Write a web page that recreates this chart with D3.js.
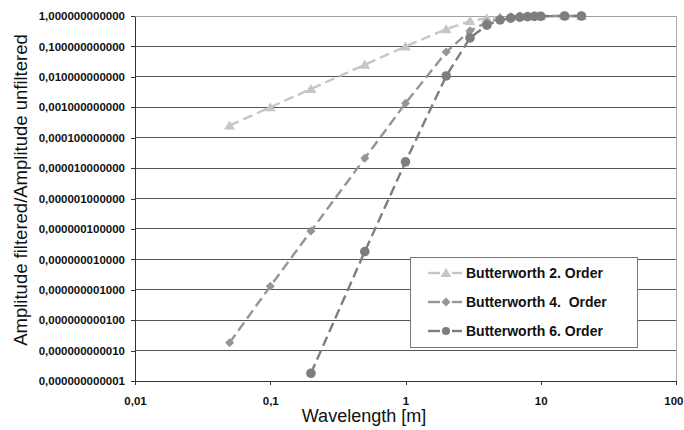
<!DOCTYPE html>
<html>
<head>
<meta charset="utf-8">
<script src="https://cdn.jsdelivr.net/npm/d3@7/dist/d3.min.js"></script>
<style>
  html, body { margin: 0; padding: 0; background: #fff; }
  svg { display: block; font-family: "Liberation Sans", Arial, sans-serif; }
</style>
</head>
<body>
<svg id="chart" width="684" height="430"></svg>
<script>
// Wavelengths [m] at which the filter response was evaluated
const wavelengthsLong = [0.05, 0.1, 0.2, 0.5, 1, 2, 3, 4, 5, 6, 7, 8, 9, 10, 15, 20];
const wavelengthsShort = [0.2, 0.5, 1, 2, 3, 4, 5, 6, 7, 8, 9, 10, 15, 20];

// Amplitude ratio filtered / unfiltered
const order2 = [2.5e-4, 1.0e-3, 4.0e-3, 0.025, 0.1, 0.37, 0.68, 0.85, 0.93, 0.965, 0.98, 0.988, 0.992, 0.995, 0.999, 1.0];
const order4 = [1.8e-11, 1.3e-9, 8.5e-8, 2.1e-5, 1.35e-3, 0.065, 0.33, 0.62, 0.82, 0.92, 0.96, 0.98, 0.99, 0.995, 1.0, 1.0];
const order6 = [1.8e-12, 1.8e-8, 1.6e-5, 0.0107, 0.19, 0.5, 0.74, 0.86, 0.92, 0.95, 0.97, 0.98, 1.0, 1.0];

const seriesNames = ["Butterworth 2. Order", "Butterworth 4.  Order", "Butterworth 6. Order"];

// Axis ticks and their labels
const xTicks = [0.01, 0.1, 1, 10, 100];
const xTickLabels = ["0,01", "0,1", "1", "10", "100"];
const yTicks = [1, 1e-1, 1e-2, 1e-3, 1e-4, 1e-5, 1e-6, 1e-7, 1e-8, 1e-9, 1e-10, 1e-11, 1e-12];
const yTickLabels = [
  "1,000000000000", "0,100000000000", "0,010000000000", "0,001000000000",
  "0,000100000000", "0,000010000000", "0,000001000000", "0,000000100000",
  "0,000000010000", "0,000000001000", "0,000000000100", "0,000000000010",
  "0,000000000001"
];

const svg = d3.select("#chart");
const L = 135, R = 676, T = 16, B = 381;

const x = d3.scaleLog().domain([0.01, 100]).range([L, R]);
const y = d3.scaleLog().domain([1e-12, 1]).range([B, T]);

// Horizontal grid lines
svg.append("g").selectAll("line")
  .data(yTicks)
  .join("line")
  .attr("x1", L).attr("x2", R)
  .attr("y1", d => y(d)).attr("y2", d => y(d))
  .attr("stroke", (d, i) => i === 0 ? "#a0a0a0" : "#555")
  .attr("stroke-width", 1)
  .attr("shape-rendering", "crispEdges");

// Right frame
svg.append("line")
  .attr("x1", R).attr("x2", R).attr("y1", T).attr("y2", B)
  .attr("stroke", "#a8a8a8").attr("shape-rendering", "crispEdges");

// Y axis
const yAxis = d3.axisLeft(y)
  .tickValues(yTicks)
  .tickFormat((d, i) => yTickLabels[i])
  .tickSize(4)
  .tickSizeOuter(0)
  .tickPadding(6);
const gy = svg.append("g").attr("transform", `translate(${L},0)`).call(yAxis);
gy.selectAll("text").attr("font-size", "11.5px").attr("font-weight", "bold")
  .attr("fill", "#111").attr("font-family", "'Liberation Sans', Arial, sans-serif");
gy.selectAll("line, path").attr("stroke", "#333").attr("shape-rendering", "crispEdges");

// X axis
const xAxis = d3.axisBottom(x)
  .tickValues(xTicks)
  .tickFormat((d, i) => xTickLabels[i])
  .tickSize(4)
  .tickSizeOuter(0)
  .tickPadding(12);
const gx = svg.append("g").attr("transform", `translate(0,${B})`).call(xAxis);
gx.selectAll("text").attr("font-size", "11.5px").attr("font-weight", "bold")
  .attr("fill", "#111").attr("font-family", "'Liberation Sans', Arial, sans-serif");
gx.selectAll("line, path").attr("stroke", "#333").attr("shape-rendering", "crispEdges");
// Keep the last label inside the page edge
gx.selectAll(".tick").filter(d => d === 100).select("text")
  .attr("text-anchor", "end").attr("x", 684 - R - 1);

// Axis titles
svg.append("text")
  .attr("x", 364).attr("y", 422)
  .attr("text-anchor", "middle")
  .attr("font-size", "18px")
  .attr("fill", "#111")
  .text("Wavelength [m]");

svg.append("text")
  .attr("transform", "translate(27,190) rotate(-90)")
  .attr("text-anchor", "middle")
  .attr("font-size", "18.5px")
  .attr("fill", "#111")
  .text("Amplitude filtered/Amplitude unfiltered");

// Marker shapes
const markerPath = {
  triangle: "M0,-5L5.5,4L-5.5,4Z",
  diamond: "M0,-4.5L4.5,0L0,4.5L-4.5,0Z",
  circle: d3.symbol().type(d3.symbolCircle).size(Math.PI * 4.8 * 4.8)()
};

const series = [
  { name: seriesNames[0], xs: wavelengthsLong, ys: order2, color: "#c6c6c6", marker: "triangle" },
  { name: seriesNames[1], xs: wavelengthsLong, ys: order4, color: "#959595", marker: "diamond" },
  { name: seriesNames[2], xs: wavelengthsShort, ys: order6, color: "#7e7e7e", marker: "circle" }
];

const line = d3.line().x(d => x(d[0])).y(d => y(d[1]));

series.forEach(s => {
  const pts = s.xs.map((w, i) => [w, s.ys[i]]);
  const g = svg.append("g");
  g.append("path")
    .datum(pts)
    .attr("d", line)
    .attr("fill", "none")
    .attr("stroke", s.color)
    .attr("stroke-width", 2.4)
    .attr("stroke-dasharray", "10,5");
  g.selectAll("path.pt")
    .data(pts)
    .join("path")
    .attr("class", "pt")
    .attr("d", markerPath[s.marker])
    .attr("transform", d => `translate(${x(d[0])},${y(d[1])})`)
    .attr("fill", s.color);
});

// Legend
const legend = svg.append("g");
legend.append("rect")
  .attr("x", 410.5).attr("y", 257.5)
  .attr("width", 227).attr("height", 90)
  .attr("fill", "#fff")
  .attr("stroke", "#777")
  .attr("stroke-width", 1);

series.forEach((s, i) => {
  const cy = 273 + i * 29;
  legend.append("line")
    .attr("x1", 428).attr("x2", 440).attr("y1", cy).attr("y2", cy)
    .attr("stroke", s.color).attr("stroke-width", 2.4);
  legend.append("line")
    .attr("x1", 452).attr("x2", 462).attr("y1", cy).attr("y2", cy)
    .attr("stroke", s.color).attr("stroke-width", 2.4);
  legend.append("path")
    .attr("d", markerPath[s.marker])
    .attr("transform", `translate(446,${cy})${s.marker === "circle" ? " scale(0.85)" : ""}`)
    .attr("fill", s.color);
  legend.append("text")
    .attr("x", 466).attr("y", cy + 5)
    .attr("font-size", "14px")
    .attr("font-weight", "bold")
    .attr("fill", "#111")
    .attr("xml:space", "preserve")
    .style("white-space", "pre")
    .text(s.name);
});
</script>
</body>
</html>
